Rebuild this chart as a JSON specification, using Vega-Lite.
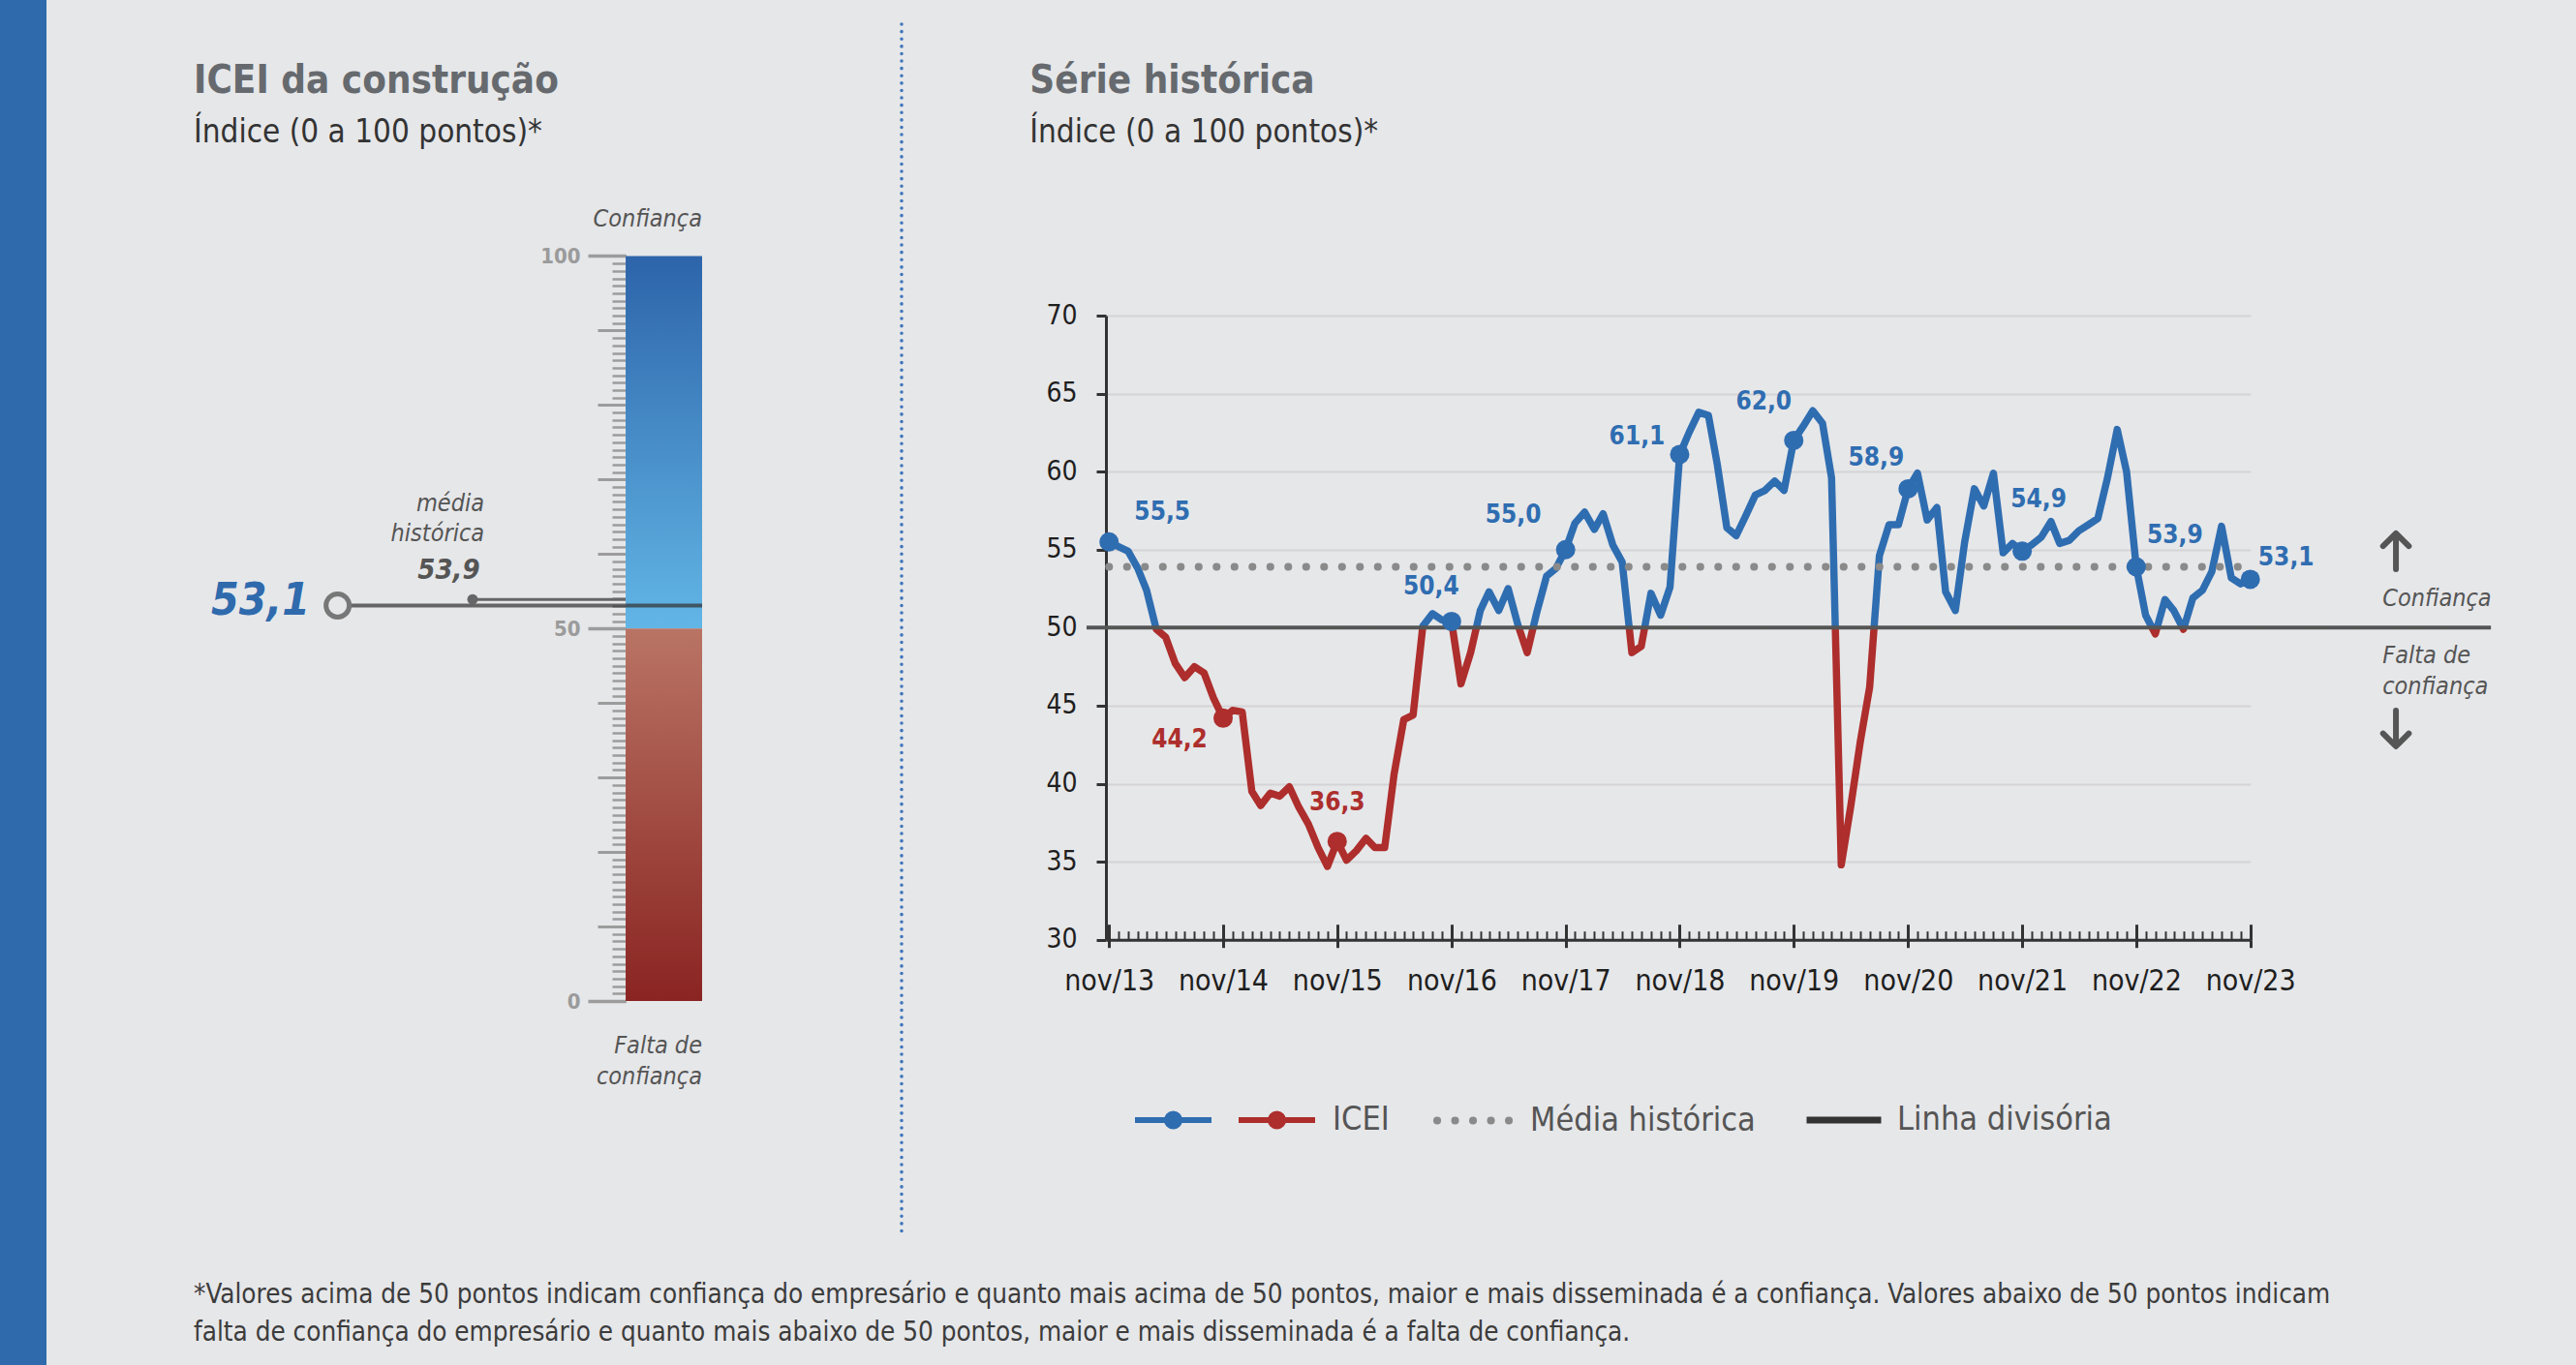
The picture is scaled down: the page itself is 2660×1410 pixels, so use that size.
{
  "$schema": "https://vega.github.io/schema/vega-lite/v6.json",
  "background": "#e6e7e9",
  "padding": 0,
  "spacing": 0,
  "bounds": "flush",
  "resolve": {"scale": {"color": "independent"}, "legend": {"color": "independent"}},
  "config": {
    "font": "DejaVu Sans Condensed, DejaVu Sans, sans-serif",
    "view": {"stroke": null}
  },
  "datasets": {
    "icei": [
      {"mes": "2013-11-01", "valor": 55.5, "rotulo": "55,5", "faixa": "Confiança"},
      {"mes": "2013-12-01", "valor": 55.2},
      {"mes": "2014-01-01", "valor": 54.9},
      {"mes": "2014-02-01", "valor": 53.8},
      {"mes": "2014-03-01", "valor": 52.4},
      {"mes": "2014-04-01", "valor": 49.9},
      {"mes": "2014-05-01", "valor": 49.4},
      {"mes": "2014-06-01", "valor": 47.7},
      {"mes": "2014-07-01", "valor": 46.8},
      {"mes": "2014-08-01", "valor": 47.5},
      {"mes": "2014-09-01", "valor": 47.1},
      {"mes": "2014-10-01", "valor": 45.5},
      {"mes": "2014-11-01", "valor": 44.2, "rotulo": "44,2", "faixa": "Falta de confiança"},
      {"mes": "2014-12-01", "valor": 44.7},
      {"mes": "2015-01-01", "valor": 44.6},
      {"mes": "2015-02-01", "valor": 39.5},
      {"mes": "2015-03-01", "valor": 38.6},
      {"mes": "2015-04-01", "valor": 39.4},
      {"mes": "2015-05-01", "valor": 39.2},
      {"mes": "2015-06-01", "valor": 39.8},
      {"mes": "2015-07-01", "valor": 38.5},
      {"mes": "2015-08-01", "valor": 37.4},
      {"mes": "2015-09-01", "valor": 35.9},
      {"mes": "2015-10-01", "valor": 34.7},
      {"mes": "2015-11-01", "valor": 36.3, "rotulo": "36,3", "faixa": "Falta de confiança"},
      {"mes": "2015-12-01", "valor": 35.1},
      {"mes": "2016-01-01", "valor": 35.7},
      {"mes": "2016-02-01", "valor": 36.5},
      {"mes": "2016-03-01", "valor": 35.9},
      {"mes": "2016-04-01", "valor": 35.9},
      {"mes": "2016-05-01", "valor": 40.6},
      {"mes": "2016-06-01", "valor": 44.1},
      {"mes": "2016-07-01", "valor": 44.4},
      {"mes": "2016-08-01", "valor": 50.1},
      {"mes": "2016-09-01", "valor": 50.9},
      {"mes": "2016-10-01", "valor": 50.5},
      {"mes": "2016-11-01", "valor": 50.4, "rotulo": "50,4", "faixa": "Confiança"},
      {"mes": "2016-12-01", "valor": 46.4},
      {"mes": "2017-01-01", "valor": 48.4},
      {"mes": "2017-02-01", "valor": 51.1},
      {"mes": "2017-03-01", "valor": 52.3},
      {"mes": "2017-04-01", "valor": 51.1},
      {"mes": "2017-05-01", "valor": 52.5},
      {"mes": "2017-06-01", "valor": 50.2},
      {"mes": "2017-07-01", "valor": 48.4},
      {"mes": "2017-08-01", "valor": 51.0},
      {"mes": "2017-09-01", "valor": 53.3},
      {"mes": "2017-10-01", "valor": 53.8},
      {"mes": "2017-11-01", "valor": 55.0, "rotulo": "55,0", "faixa": "Confiança"},
      {"mes": "2017-12-01", "valor": 56.7},
      {"mes": "2018-01-01", "valor": 57.4},
      {"mes": "2018-02-01", "valor": 56.3},
      {"mes": "2018-03-01", "valor": 57.3},
      {"mes": "2018-04-01", "valor": 55.3},
      {"mes": "2018-05-01", "valor": 54.2},
      {"mes": "2018-06-01", "valor": 48.4},
      {"mes": "2018-07-01", "valor": 48.8},
      {"mes": "2018-08-01", "valor": 52.2},
      {"mes": "2018-09-01", "valor": 50.8},
      {"mes": "2018-10-01", "valor": 52.6},
      {"mes": "2018-11-01", "valor": 61.1, "rotulo": "61,1", "faixa": "Confiança"},
      {"mes": "2018-12-01", "valor": 62.5},
      {"mes": "2019-01-01", "valor": 63.8},
      {"mes": "2019-02-01", "valor": 63.6},
      {"mes": "2019-03-01", "valor": 60.5},
      {"mes": "2019-04-01", "valor": 56.4},
      {"mes": "2019-05-01", "valor": 55.9},
      {"mes": "2019-06-01", "valor": 57.2},
      {"mes": "2019-07-01", "valor": 58.5},
      {"mes": "2019-08-01", "valor": 58.8},
      {"mes": "2019-09-01", "valor": 59.4},
      {"mes": "2019-10-01", "valor": 58.8},
      {"mes": "2019-11-01", "valor": 62.0, "rotulo": "62,0", "faixa": "Confiança"},
      {"mes": "2019-12-01", "valor": 62.9},
      {"mes": "2020-01-01", "valor": 63.9},
      {"mes": "2020-02-01", "valor": 63.1},
      {"mes": "2020-03-01", "valor": 59.6},
      {"mes": "2020-04-01", "valor": 34.8},
      {"mes": "2020-05-01", "valor": 38.5},
      {"mes": "2020-06-01", "valor": 42.7},
      {"mes": "2020-07-01", "valor": 46.2},
      {"mes": "2020-08-01", "valor": 54.6},
      {"mes": "2020-09-01", "valor": 56.6},
      {"mes": "2020-10-01", "valor": 56.6},
      {"mes": "2020-11-01", "valor": 58.9, "rotulo": "58,9", "faixa": "Confiança"},
      {"mes": "2020-12-01", "valor": 59.9},
      {"mes": "2021-01-01", "valor": 56.9},
      {"mes": "2021-02-01", "valor": 57.7},
      {"mes": "2021-03-01", "valor": 52.3},
      {"mes": "2021-04-01", "valor": 51.1},
      {"mes": "2021-05-01", "valor": 55.5},
      {"mes": "2021-06-01", "valor": 58.9},
      {"mes": "2021-07-01", "valor": 57.8},
      {"mes": "2021-08-01", "valor": 59.9},
      {"mes": "2021-09-01", "valor": 54.8},
      {"mes": "2021-10-01", "valor": 55.4},
      {"mes": "2021-11-01", "valor": 54.9, "rotulo": "54,9", "faixa": "Confiança"},
      {"mes": "2021-12-01", "valor": 55.3},
      {"mes": "2022-01-01", "valor": 55.8},
      {"mes": "2022-02-01", "valor": 56.8},
      {"mes": "2022-03-01", "valor": 55.4},
      {"mes": "2022-04-01", "valor": 55.6},
      {"mes": "2022-05-01", "valor": 56.2},
      {"mes": "2022-06-01", "valor": 56.6},
      {"mes": "2022-07-01", "valor": 57.0},
      {"mes": "2022-08-01", "valor": 59.6},
      {"mes": "2022-09-01", "valor": 62.7},
      {"mes": "2022-10-01", "valor": 60.0},
      {"mes": "2022-11-01", "valor": 53.9, "rotulo": "53,9", "faixa": "Confiança"},
      {"mes": "2022-12-01", "valor": 50.8},
      {"mes": "2023-01-01", "valor": 49.6},
      {"mes": "2023-02-01", "valor": 51.8},
      {"mes": "2023-03-01", "valor": 51.1},
      {"mes": "2023-04-01", "valor": 49.9},
      {"mes": "2023-05-01", "valor": 51.9},
      {"mes": "2023-06-01", "valor": 52.4},
      {"mes": "2023-07-01", "valor": 53.6},
      {"mes": "2023-08-01", "valor": 56.5},
      {"mes": "2023-09-01", "valor": 53.2},
      {"mes": "2023-10-01", "valor": 52.8},
      {"mes": "2023-11-01", "valor": 53.1, "rotulo": "53,1", "faixa": "Confiança"}
    ],
    "gauge": [
      {"serie": "ICEI", "valor": 53.1, "rotulo": "53,1"},
      {"serie": "Média histórica", "valor": 53.9, "rotulo": "53,9"}
    ],
    "faixas": [
      {"faixa": "Confiança", "de": 50, "ate": 100},
      {"faixa": "Falta de confiança", "de": 0, "ate": 50}
    ],
    "referencias": [
      {"serie": "Média histórica", "valor": 53.9},
      {"serie": "Linha divisória", "valor": 50}
    ],
    "vazio": []
  },
  "hconcat": [
    {
      "width": 48,
      "height": 1410,
      "view": {"fill": "#2e6aac", "stroke": null},
      "layer": [
        {
          "data": {"name": "faixas"},
          "transform": [{"filter": "datum.faixa === 'Confiança'"}],
          "mark": {"type": "rect", "fill": "#e6e7e9"},
          "encoding": {
            "x": {"datum": 1, "type": "quantitative", "scale": {"domain": [0, 1], "nice": false, "zero": false}, "axis": null},
            "x2": {"datum": 55.4167},
            "y": {"datum": 0, "type": "quantitative", "scale": {"domain": [0, 1], "nice": false, "zero": false}, "axis": null},
            "y2": {"datum": 1}
          }
        },
        {
          "data": {"name": "faixas"},
          "transform": [{"filter": "datum.faixa === 'Confiança'"}],
          "mark": {"type": "rule", "stroke": "#3f74ba", "strokeWidth": 3.5, "strokeDash": [0.1, 7.5], "strokeCap": "round"},
          "encoding": {
            "x": {"datum": 19.396, "type": "quantitative", "axis": null},
            "y": {"datum": 0.98227, "type": "quantitative", "axis": null},
            "y2": {"datum": 0.09787}
          }
        }
      ]
    },
    {
      "spacing": 0,
      "bounds": "flush",
      "resolve": {"scale": {"color": "independent"}, "legend": {"color": "independent"}},
      "title": {
        "text": [
          "*Valores acima de 50 pontos indicam confiança do empresário e quanto mais acima de 50 pontos, maior e mais disseminada é a confiança. Valores abaixo de 50 pontos indicam",
          "falta de confiança do empresário e quanto mais abaixo de 50 pontos, maior e mais disseminada é a falta de confiança."
        ],
        "orient": "bottom",
        "anchor": "start",
        "dx": 152,
        "offset": 148,
        "fontSize": 27.6,
        "fontWeight": "normal",
        "color": "#3c3c3c",
        "lineHeight": 39
      },
      "vconcat": [
        {"width": 10, "height": 170, "data": {"name": "vazio"}, "mark": "point"},
        {
          "spacing": 0,
          "bounds": "flush",
          "resolve": {"scale": {"color": "independent"}, "legend": {"color": "independent"}},
          "hconcat": [
            {
              "width": 1093.7,
              "height": 864,
              "title": {
                "text": "ICEI da construção",
                "subtitle": "Índice (0 a 100 pontos)*",
                "anchor": "start",
                "frame": "group",
                "orient": "top",
                "dx": 152,
                "offset": 16,
                "fontSize": 40,
                "fontWeight": "bold",
                "color": "#666a6e",
                "subtitleFontSize": 33,
                "subtitleColor": "#333333",
                "subtitlePadding": 17
              },
              "resolve": {"axis": {"y": "independent"}},
              "layer": [
                {
                  "data": {"name": "faixas"},
                  "transform": [{"filter": "datum.faixa === 'Confiança'"}],
                  "mark": {"type": "rect", "fill": {"gradient": "linear", "x1": 0, "y1": 0, "x2": 0, "y2": 1, "stops": [{"offset": 0, "color": "#2d64aa"}, {"offset": 1, "color": "#62b6e6"}]}},
                  "encoding": {
                    "x": {"datum": 54.68, "type": "quantitative", "scale": {"domain": [0, 100], "nice": false, "zero": false}, "axis": null},
                    "x2": {"datum": 61.9},
                    "y": {"field": "de", "type": "quantitative", "scale": {"domain": [0, 112.28], "nice": false, "zero": false},
                      "axis": {"orient": "left", "offset": -598, "values": [0,1,2,3,4,5,6,7,8,9,10,11,12,13,14,15,16,17,18,19,20,21,22,23,24,25,26,27,28,29,30,31,32,33,34,35,36,37,38,39,40,41,42,43,44,45,46,47,48,49,50,51,52,53,54,55,56,57,58,59,60,61,62,63,64,65,66,67,68,69,70,71,72,73,74,75,76,77,78,79,80,81,82,83,84,85,86,87,88,89,90,91,92,93,94,95,96,97,98,99,100],
                        "domain": false, "grid": false, "labels": false, "ticks": true, "tickSize": 14, "tickWidth": 2.5, "tickColor": "#9c9c9c", "title": null}},
                    "y2": {"field": "ate"}
                  }
                },
                {
                  "data": {"name": "faixas"},
                  "transform": [{"filter": "datum.faixa === 'Falta de confiança'"}],
                  "mark": {"type": "rect", "fill": {"gradient": "linear", "x1": 0, "y1": 0, "x2": 0, "y2": 1, "stops": [{"offset": 0, "color": "#b97464"}, {"offset": 1, "color": "#8a2422"}]}},
                  "encoding": {
                    "x": {"datum": 54.68, "type": "quantitative", "axis": null},
                    "x2": {"datum": 61.9},
                    "y": {"field": "de", "type": "quantitative",
                      "axis": {"orient": "left", "offset": -598, "values": [0,10,20,30,40,50,60,70,80,90,100],
                        "domain": false, "grid": false, "labels": false, "ticks": true, "tickSize": 29, "tickWidth": 3, "tickColor": "#9c9c9c", "title": null}},
                    "y2": {"field": "ate"}
                  }
                },
                {
                  "data": {"name": "gauge"},
                  "transform": [{"filter": "datum.serie === 'ICEI'"}],
                  "mark": {"type": "rule", "color": "#333333", "opacity": 0.72, "strokeWidth": 4},
                  "encoding": {
                    "x": {"datum": 27.49, "type": "quantitative", "axis": null},
                    "x2": {"datum": 61.9},
                    "y": {"field": "valor", "type": "quantitative",
                      "axis": {"orient": "left", "offset": -598, "values": [0, 50, 100],
                        "domain": false, "grid": false, "labels": true, "ticks": true, "tickSize": 39, "tickWidth": 3.5, "tickColor": "#9c9c9c",
                        "labelFontSize": 22, "labelFontWeight": "bold", "labelColor": "#9b9b9b", "labelPadding": 8, "title": null}}
                  }
                },
                {
                  "data": {"name": "gauge"},
                  "transform": [{"filter": "datum.serie === 'Média histórica'"}],
                  "mark": {"type": "rule", "color": "#666666", "strokeWidth": 3},
                  "encoding": {
                    "x": {"datum": 40.23, "type": "quantitative", "axis": null},
                    "x2": {"datum": 54.68},
                    "y": {"field": "valor", "type": "quantitative", "axis": null}
                  }
                },
                {
                  "data": {"name": "gauge"},
                  "transform": [{"filter": "datum.serie === 'Média histórica'"}],
                  "mark": {"type": "point", "filled": true, "color": "#666666", "size": 120, "opacity": 1},
                  "encoding": {
                    "x": {"datum": 40.23, "type": "quantitative", "axis": null},
                    "y": {"field": "valor", "type": "quantitative", "axis": null}
                  }
                },
                {
                  "data": {"name": "gauge"},
                  "transform": [{"filter": "datum.serie === 'ICEI'"}],
                  "mark": {"type": "point", "filled": true, "fill": "#e6e7e9", "stroke": "#777777", "strokeWidth": 5, "size": 576, "opacity": 1},
                  "encoding": {
                    "x": {"datum": 27.49, "type": "quantitative", "axis": null},
                    "y": {"field": "valor", "type": "quantitative", "axis": null}
                  }
                },
                {
                  "data": {"name": "gauge"},
                  "transform": [{"filter": "datum.serie === 'ICEI'"}],
                  "mark": {"type": "text", "align": "right", "baseline": "middle", "dy": -4, "fontSize": 46, "fontWeight": "bold", "fontStyle": "italic", "color": "#2f6aad"},
                  "encoding": {
                    "x": {"datum": 24.87, "type": "quantitative", "axis": null},
                    "y": {"field": "valor", "type": "quantitative", "axis": null},
                    "text": {"field": "rotulo"}
                  }
                },
                {
                  "data": {"name": "gauge"},
                  "transform": [{"filter": "datum.serie === 'Média histórica'"}],
                  "mark": {"type": "text", "align": "right", "baseline": "middle", "dy": -30, "fontSize": 29, "fontWeight": "bold", "fontStyle": "italic", "color": "#555555"},
                  "encoding": {
                    "x": {"datum": 40.93, "type": "quantitative", "axis": null},
                    "y": {"field": "valor", "type": "quantitative", "axis": null},
                    "text": {"field": "rotulo"}
                  }
                },
                {
                  "data": {"name": "gauge"},
                  "transform": [{"filter": "datum.serie === 'Média histórica'"}],
                  "mark": {"type": "text", "text": ["média", "histórica"], "align": "right", "baseline": "middle", "dy": -99, "lineHeight": 31, "fontSize": 25, "fontStyle": "italic", "color": "#555555"},
                  "encoding": {
                    "x": {"datum": 41.33, "type": "quantitative", "axis": null},
                    "y": {"field": "valor", "type": "quantitative", "axis": null}
                  }
                },
                {
                  "data": {"name": "faixas"},
                  "transform": [{"filter": "datum.faixa === 'Confiança'"}],
                  "mark": {"type": "text", "align": "right", "baseline": "middle", "dy": -38, "fontSize": 25, "fontStyle": "italic", "color": "#555555"},
                  "encoding": {
                    "x": {"datum": 61.9, "type": "quantitative", "axis": null},
                    "y": {"field": "ate", "type": "quantitative", "axis": null},
                    "text": {"field": "faixa"}
                  }
                },
                {
                  "data": {"name": "faixas"},
                  "transform": [{"filter": "datum.faixa === 'Falta de confiança'"}],
                  "mark": {"type": "text", "text": ["Falta de", "confiança"], "align": "right", "baseline": "middle", "dy": 46, "lineHeight": 32, "fontSize": 25, "fontStyle": "italic", "color": "#555555"},
                  "encoding": {
                    "x": {"datum": 61.9, "type": "quantitative", "axis": null},
                    "y": {"field": "de", "type": "quantitative", "axis": null}
                  }
                }
              ]
            },
            {
              "spacing": 0,
              "bounds": "flush",
              "resolve": {"scale": {"color": "independent"}, "legend": {"color": "independent"}},
              "vconcat": [
                {"width": 10, "height": 156, "data": {"name": "vazio"}, "mark": "point"},
                {
                  "width": 1181.8,
                  "height": 644.7,
                  "title": {
                    "text": "Série histórica",
                    "subtitle": "Índice (0 a 100 pontos)*",
                    "anchor": "start",
                    "frame": "group",
                    "orient": "top",
                    "dx": -78.7,
                    "offset": 158,
                    "fontSize": 40,
                    "fontWeight": "bold",
                    "color": "#666a6e",
                    "subtitleFontSize": 33,
                    "subtitleColor": "#333333",
                    "subtitlePadding": 17
                  },
                  "resolve": {
                    "scale": {"strokeDash": "independent"},
                    "legend": {"strokeDash": "independent"},
                    "axis": {"x": "independent", "y": "independent"}
                  },
                  "layer": [
                    {
                      "data": {"name": "icei"},
                      "mark": {"type": "line", "strokeWidth": 7.5, "strokeJoin": "round", "strokeCap": "round",
                        "stroke": {"gradient": "linear", "x1": 0, "y1": 0, "x2": 0, "y2": 1,
                          "stops": [{"offset": 0, "color": "#2f6db1"}, {"offset": 0.47603, "color": "#2f6db1"}, {"offset": 0.47603, "color": "#ad2e2c"}, {"offset": 1, "color": "#ad2e2c"}]}},
                      "encoding": {
                        "x": {"field": "mes", "type": "temporal",
                          "scale": {"type": "utc", "domain": [{"year": 2013, "month": 10, "date": 22, "utc": true}, {"year": 2023, "month": 11, "date": 1, "hours": 8, "utc": true}], "nice": false},
                          "axis": {"orient": "bottom", "values": [
                            {"year": 2013, "month": 11, "date": 1, "utc": true},
                            {"year": 2014, "month": 11, "date": 1, "utc": true},
                            {"year": 2015, "month": 11, "date": 1, "utc": true},
                            {"year": 2016, "month": 11, "date": 1, "utc": true},
                            {"year": 2017, "month": 11, "date": 1, "utc": true},
                            {"year": 2018, "month": 11, "date": 1, "utc": true},
                            {"year": 2019, "month": 11, "date": 1, "utc": true},
                            {"year": 2020, "month": 11, "date": 1, "utc": true},
                            {"year": 2021, "month": 11, "date": 1, "utc": true},
                            {"year": 2022, "month": 11, "date": 1, "utc": true},
                            {"year": 2023, "month": 11, "date": 1, "utc": true}],
                            "labelExpr": "'nov/' + utcFormat(datum.value, '%y')",
                            "tickSize": 8, "tickWidth": 3, "tickColor": "#333333",
                            "domain": true, "domainColor": "#333333", "domainWidth": 3,
                            "labelFontSize": 30, "labelColor": "#1e1e1e", "labelPadding": 20,
                            "labelFlush": false, "labelOverlap": false, "grid": false, "title": null}},
                        "y": {"field": "valor", "type": "quantitative",
                          "scale": {"domain": [30, 70], "nice": false, "zero": false},
                          "axis": {"orient": "left", "values": [30, 35, 40, 45, 50, 55, 60, 65, 70], "grid": true, "gridColor": "#d3d4d6", "gridWidth": 2,
                            "domain": true, "domainColor": "#333333", "domainWidth": 3,
                            "ticks": true, "tickColor": "#333333", "tickSize": 10, "tickWidth": 3,
                            "labels": true, "labelFontSize": 28, "labelColor": "#1e1e1e", "labelPadding": 20, "title": null}}
                      }
                    },
                    {
                      "data": {"name": "referencias"},
                      "transform": [{"filter": "datum.serie === 'Média histórica'"}],
                      "mark": {"type": "rule", "color": "#8a8a8a", "strokeWidth": 8, "strokeCap": "round"},
                      "encoding": {
                        "x": {"datum": {"year": 2013, "month": 11, "date": 1, "utc": true}, "type": "temporal", "axis": null},
                        "x2": {"datum": {"year": 2023, "month": 10, "date": 11, "utc": true}},
                        "y": {"field": "valor", "type": "quantitative", "axis": null},
                        "strokeDash": {"field": "serie", "type": "nominal", "scale": {"range": [[0.1, 18.4]]},
                          "legend": {"orient": "none", "legendX": 338, "legendY": 786, "title": null, "padding": 0,
                            "symbolSize": 6889, "symbolStrokeWidth": 8, "symbolStrokeColor": "#8a8a8a",
                            "labelOffset": 9, "labelFontSize": 34, "labelColor": "#555555", "labelLimit": 500,
                            "encode": {"symbols": {"update": {"strokeCap": {"value": "round"}}}}}}
                      }
                    },
                    {
                      "data": {"name": "referencias"},
                      "transform": [{"filter": "datum.serie === 'Linha divisória'"}],
                      "mark": {"type": "rule", "color": "#555555", "strokeWidth": 4},
                      "encoding": {
                        "x": {"datum": {"year": 2013, "month": 8, "date": 21, "utc": true}, "type": "temporal", "axis": null},
                        "x2": {"datum": {"year": 2025, "month": 12, "date": 10, "utc": true}},
                        "y": {"field": "valor", "type": "quantitative", "axis": null},
                        "strokeDash": {"field": "serie", "type": "nominal", "scale": {"range": [[1, 0]]},
                          "legend": {"orient": "none", "legendX": 720, "legendY": 789, "title": null, "padding": 0,
                            "symbolSize": 5929, "symbolStrokeWidth": 7, "symbolStrokeColor": "#333333",
                            "labelOffset": 13, "labelFontSize": 34, "labelColor": "#555555", "labelLimit": 500}}
                      }
                    },
                    {
                      "data": {"name": "icei"},
                      "transform": [{"filter": "isValid(datum.rotulo)"}],
                      "mark": {"type": "point", "filled": false, "size": 0.01, "strokeWidth": 6,
                        "shape": "M-1,0L1,0M0.165,0A0.165,0.165,0,1,1,-0.165,0A0.165,0.165,0,1,1,0.165,0M0.09,0A0.09,0.09,0,1,1,-0.09,0A0.09,0.09,0,1,1,0.09,0M0.02,0A0.02,0.02,0,1,1,-0.02,0A0.02,0.02,0,1,1,0.02,0"},
                      "encoding": {
                        "x": {"field": "mes", "type": "temporal", "axis": null},
                        "y": {"field": "valor", "type": "quantitative", "axis": null},
                        "color": {"field": "faixa", "type": "nominal",
                          "scale": {"domain": ["Confiança", "Falta de confiança"], "range": ["#2f6db1", "#ad2e2c"]},
                          "legend": {"orient": "none", "legendX": 27, "legendY": 788, "direction": "horizontal", "title": null, "padding": 0,
                            "symbolType": "M-1,0L1,0M0.165,0A0.165,0.165,0,1,1,-0.165,0A0.165,0.165,0,1,1,0.165,0M0.09,0A0.09,0.09,0,1,1,-0.09,0A0.09,0.09,0,1,1,0.09,0M0.02,0A0.02,0.02,0,1,1,-0.02,0A0.02,0.02,0,1,1,0.02,0",
                            "symbolSize": 6241, "symbolStrokeWidth": 6, "symbolOpacity": 1,
                            "labelExpr": "datum.value === 'Falta de confiança' ? 'ICEI' : ''",
                            "labelFontSize": 34, "labelColor": "#555555", "labelOffset": 15, "columnPadding": -2, "labelLimit": 500,
                            "encode": {"symbols": {"update": {"size": {"value": 6241}, "strokeWidth": {"value": 6}}}}}}
                      }
                    },
                    {
                      "data": {"name": "icei"},
                      "transform": [{"filter": "isValid(datum.rotulo)"}],
                      "mark": {"type": "point", "filled": true, "size": 400, "opacity": 1},
                      "encoding": {
                        "x": {"field": "mes", "type": "temporal",
                          "axis": {"orient": "bottom", "tickCount": {"interval": "month", "step": 1}, "labels": false, "domain": false, "grid": false,
                            "ticks": true, "tickSize": -9, "tickWidth": 2, "tickColor": "#333333", "title": null}},
                        "y": {"field": "valor", "type": "quantitative", "axis": null},
                        "color": {"field": "faixa", "type": "nominal", "legend": null}
                      }
                    },
                    {
                      "data": {"name": "icei"},
                      "transform": [{"filter": "isValid(datum.rotulo)"}],
                      "mark": {"type": "text", "fontSize": 26, "fontWeight": "bold", "align": "center", "baseline": "middle",
                        "dx": {"expr": "datum.rotulo === '55,5' ? 55 : datum.rotulo === '44,2' ? -45 : datum.rotulo === '36,3' ? 0 : datum.rotulo === '50,4' ? -21 : datum.rotulo === '55,0' ? -54 : datum.rotulo === '61,1' ? -44 : datum.rotulo === '62,0' ? -31 : datum.rotulo === '58,9' ? -33 : datum.rotulo === '54,9' ? 17 : datum.rotulo === '53,9' ? 40 : 37"},
                        "dy": {"expr": "datum.rotulo === '55,5' ? -31 : datum.rotulo === '44,2' ? 22 : datum.rotulo === '36,3' ? -40 : datum.rotulo === '50,4' ? -36 : datum.rotulo === '55,0' ? -36 : datum.rotulo === '61,1' ? -18 : datum.rotulo === '62,0' ? -40 : datum.rotulo === '58,9' ? -32 : datum.rotulo === '54,9' ? -53 : datum.rotulo === '53,9' ? -32 : -22"}},
                      "encoding": {
                        "x": {"field": "mes", "type": "temporal",
                          "axis": {"orient": "bottom", "values": [
                            {"year": 2013, "month": 11, "date": 1, "utc": true},
                            {"year": 2014, "month": 11, "date": 1, "utc": true},
                            {"year": 2015, "month": 11, "date": 1, "utc": true},
                            {"year": 2016, "month": 11, "date": 1, "utc": true},
                            {"year": 2017, "month": 11, "date": 1, "utc": true},
                            {"year": 2018, "month": 11, "date": 1, "utc": true},
                            {"year": 2019, "month": 11, "date": 1, "utc": true},
                            {"year": 2020, "month": 11, "date": 1, "utc": true},
                            {"year": 2021, "month": 11, "date": 1, "utc": true},
                            {"year": 2022, "month": 11, "date": 1, "utc": true},
                            {"year": 2023, "month": 11, "date": 1, "utc": true}],
                            "labels": false, "domain": false, "grid": false, "ticks": true, "tickSize": -16, "tickWidth": 3, "tickColor": "#333333", "title": null}},
                        "y": {"field": "valor", "type": "quantitative", "axis": null},
                        "text": {"field": "rotulo"},
                        "color": {"field": "faixa", "type": "nominal", "legend": null}
                      }
                    },
                    {
                      "data": {"name": "faixas"},
                      "transform": [{"filter": "datum.faixa === 'Confiança'"}],
                      "mark": {"type": "text", "align": "left", "baseline": "middle", "dy": -30, "fontSize": 25, "fontStyle": "italic", "color": "#555555"},
                      "encoding": {
                        "x": {"datum": {"year": 2024, "month": 12, "date": 28, "utc": true}, "type": "temporal", "axis": null},
                        "y": {"datum": 50, "type": "quantitative", "axis": null},
                        "text": {"field": "faixa"}
                      }
                    },
                    {
                      "data": {"name": "faixas"},
                      "transform": [{"filter": "datum.faixa === 'Falta de confiança'"}],
                      "mark": {"type": "text", "text": ["Falta de", "confiança"], "align": "left", "baseline": "middle", "dy": 29, "lineHeight": 32, "fontSize": 25, "fontStyle": "italic", "color": "#555555"},
                      "encoding": {
                        "x": {"datum": {"year": 2024, "month": 12, "date": 28, "utc": true}, "type": "temporal", "axis": null},
                        "y": {"datum": 50, "type": "quantitative", "axis": null}
                      }
                    },
                    {
                      "data": {"name": "faixas"},
                      "transform": [{"filter": "datum.faixa === 'Confiança'"}],
                      "mark": {"type": "point", "shape": "M0,1L0,-0.9M-0.7,-0.25L0,-0.95L0.7,-0.25", "filled": false, "stroke": "#555555", "strokeWidth": 6, "strokeCap": "round", "strokeJoin": "round", "size": 1444, "opacity": 1},
                      "encoding": {
                        "x": {"datum": {"year": 2025, "month": 2, "date": 9, "utc": true}, "type": "temporal", "axis": null},
                        "y": {"datum": 54.93, "type": "quantitative", "axis": null}
                      }
                    },
                    {
                      "data": {"name": "faixas"},
                      "transform": [{"filter": "datum.faixa === 'Falta de confiança'"}],
                      "mark": {"type": "point", "shape": "M0,-1L0,0.9M-0.7,0.25L0,0.95L0.7,0.25", "filled": false, "stroke": "#555555", "strokeWidth": 6, "strokeCap": "round", "strokeJoin": "round", "size": 1444, "opacity": 1},
                      "encoding": {
                        "x": {"datum": {"year": 2025, "month": 2, "date": 9, "utc": true}, "type": "temporal", "axis": null},
                        "y": {"datum": 43.51, "type": "quantitative", "axis": null}
                      }
                    }
                  ]
                }
              ]
            }
          ]
        }
      ]
    }
  ]
}
